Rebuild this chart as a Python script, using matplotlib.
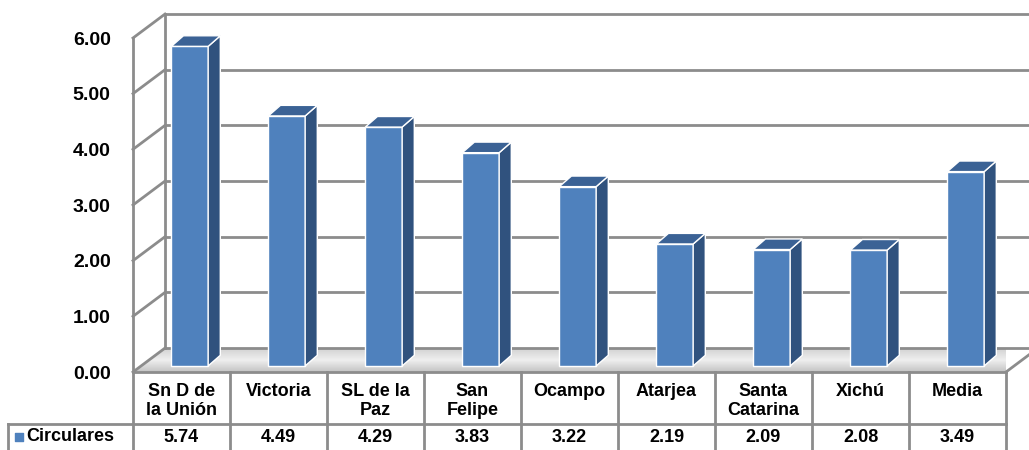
import matplotlib.pyplot as plt
import numpy as np
from matplotlib.patches import Polygon
from matplotlib.colors import LinearSegmentedColormap

plt.rcParams['font.family'] = ['Liberation Sans', 'DejaVu Sans']

# data
categories = ["Sn D de\nla Unión", "Victoria", "SL de la\nPaz", "San\nFelipe",
              "Ocampo", "Atarjea", "Santa\nCatarina", "Xichú", "Media"]
values = [5.74, 4.49, 4.29, 3.83, 3.22, 2.19, 2.09, 2.08, 3.49]
series_name = "Circulares"
yticks = [0, 1, 2, 3, 4, 5, 6]

front_col = "#4F81BD"
side_col = "#30527E"
top_col = "#3B6295"
grid_col = "#8C8C8C"

fig = plt.figure(figsize=(10.29, 4.5), dpi=100)
# axes = front plane of the 3D box
ax = fig.add_axes([133 / 1029, 78 / 450, 873 / 1029, 334 / 450])
ax.set_xlim(-0.5, 8.5)
ax.set_ylim(0, 6)
ax.axis('off')

n = len(categories)
xs = np.arange(n)

# depth offsets in data units
wall_dx, wall_dy = 0.33, 0.43      # back wall
bar_dx, bar_dy = 0.085, 0.11       # bar front plane
depth_dx, depth_dy = 0.125, 0.19   # bar depth
bar_w = 0.38

# floor with a soft gradient
floor = Polygon([(-0.5, 0), (8.5, 0), (8.5 + wall_dx, wall_dy), (-0.5 + wall_dx, wall_dy)],
                closed=True, facecolor='none', edgecolor='none', clip_on=False)
ax.add_patch(floor)
floor_cmap = LinearSegmentedColormap.from_list('floor', ['#C4C4C4', '#EFEFEF', '#D2D2D2'])
grad = np.linspace(0, 1, 50).reshape(-1, 1)
im = ax.imshow(grad, extent=(-0.5, 8.5 + wall_dx, 0, wall_dy), aspect='auto',
               cmap=floor_cmap, origin='lower', zorder=0.5)
im.set_clip_path(floor)
ax.plot([8.5, 8.5 + wall_dx], [0, wall_dy], color=grid_col, lw=2, clip_on=False, zorder=1)

# walls and gridlines
for v in yticks:
    ax.plot([-0.5, -0.5 + wall_dx], [v, v + wall_dy], color=grid_col, lw=2,
            clip_on=False, zorder=1)
    ax.plot([-0.5 + wall_dx, 9.5], [v + wall_dy, v + wall_dy], color=grid_col, lw=2,
            clip_on=False, zorder=1)
ax.plot([-0.5, -0.5], [0, 6], color=grid_col, lw=2, clip_on=False, zorder=1)
ax.plot([-0.5 + wall_dx] * 2, [wall_dy, 6 + wall_dy], color=grid_col, lw=2,
        clip_on=False, zorder=1)

# y tick labels
for v in yticks:
    ax.text(-0.73, v - 0.04, "{0:0.2f}".format(v), ha='right', va='center',
            fontsize=14, fontweight='bold', clip_on=False)

# bars: front face through ax.bar, side and top as polygons
cx = xs + bar_dx
ax.bar(cx, values, width=bar_w, bottom=bar_dy, color=front_col,
       edgecolor='white', linewidth=1, zorder=3, clip_on=False)
for x, v in zip(cx, values):
    l, r = x - bar_w / 2, x + bar_w / 2
    t, b = v + bar_dy, bar_dy
    side = Polygon([(r, b), (r + depth_dx, b + depth_dy), (r + depth_dx, t + depth_dy), (r, t)],
                   closed=True, facecolor=side_col, edgecolor='white', lw=1, zorder=3,
                   clip_on=False)
    top = Polygon([(l, t), (r, t), (r + depth_dx, t + depth_dy), (l + depth_dx, t + depth_dy)],
                  closed=True, facecolor=top_col, edgecolor='white', lw=1, zorder=3,
                  clip_on=False)
    ax.add_patch(side)
    ax.add_patch(top)

# data table under the chart
row1 = -0.934
row2 = -1.45
label_left = -1.79
ax.plot([-0.5, 8.5], [0, 0], color=grid_col, lw=2, clip_on=False, zorder=2)
ax.plot([label_left, 8.5], [row1, row1], color=grid_col, lw=2, clip_on=False, zorder=2)
ax.plot([label_left, label_left], [row1, row2], color=grid_col, lw=2, clip_on=False)
for k in range(n + 1):
    ax.plot([k - 0.5, k - 0.5], [0, row2], color=grid_col, lw=2, clip_on=False)

for x, cat, v in zip(xs, categories, values):
    ax.text(x, -0.19, cat, ha='center', va='top', fontsize=13, fontweight='bold',
            linespacing=1.15, clip_on=False)
    ax.text(x, -1.17, "{0:0.2f}".format(v), ha='center', va='center', fontsize=13,
            fontweight='bold', clip_on=False)

ax.scatter([-1.68], [-1.16], marker='s', s=30, color=front_col, clip_on=False)
ax.text(-1.6, -1.16, series_name, ha='left', va='center', fontsize=13,
        fontweight='bold', clip_on=False)

fig.savefig('out.png', dpi=100)
